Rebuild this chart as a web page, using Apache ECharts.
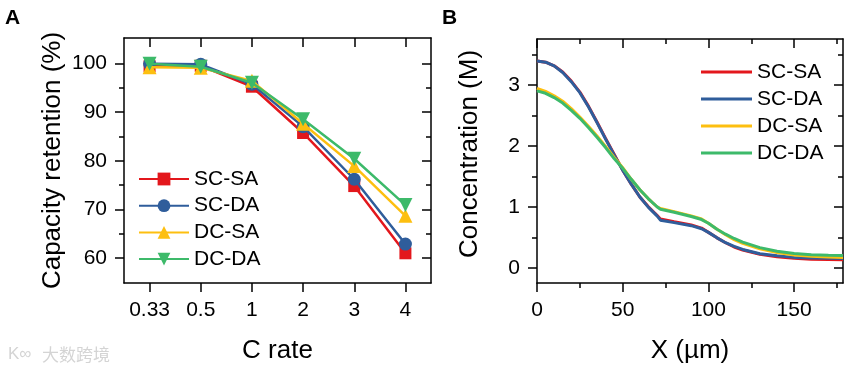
<!DOCTYPE html>
<html>
<head>
<meta charset="utf-8">
<script src="https://cdn.jsdelivr.net/npm/echarts@6/dist/echarts.min.js"></script>
<style>
  html, body { margin: 0; padding: 0; background: #fff; }
  #chart { width: 865px; height: 375px; }
</style>
</head>
<body>
<div id="chart"></div>
<script>
// panel A: capacity retention vs C rate
const cRates = ['0.33', '0.5', '1', '2', '3', '4'];
const retScSA = [99.4, 99.5, 95.2, 85.7, 74.8, 61.0];
const retScDA = [99.9, 99.8, 95.7, 87.0, 76.2, 62.9];
const retDcSA = [99.2, 99.1, 96.4, 87.6, 78.9, 68.7];
const retDcDA = [99.9, 99.3, 96.0, 88.5, 80.4, 70.9];
const retTicks = [60, 70, 80, 90, 100];
const retMinor = [65, 75, 85, 95];

// panel B: concentration profile
const xPos = [0, 5, 10, 15, 20, 25, 30, 35, 40, 45, 50, 55, 60, 65, 70, 72, 80, 90, 96, 100,
  105, 110, 115, 120, 130, 140, 150, 160, 170, 178.5];
const concScSA = [3.39, 3.37, 3.31, 3.21, 3.06, 2.88, 2.65, 2.39, 2.12, 1.86, 1.60, 1.37, 1.16, 1.00, 0.86,
  0.80, 0.755, 0.70, 0.65, 0.58, 0.49, 0.41, 0.34, 0.29, 0.22, 0.18, 0.155, 0.14, 0.135, 0.13];
const concScDA = [3.39, 3.37, 3.31, 3.20, 3.05, 2.87, 2.64, 2.38, 2.11, 1.85, 1.60, 1.37, 1.16, 0.99, 0.85,
  0.78, 0.74, 0.69, 0.64, 0.58, 0.49, 0.41, 0.35, 0.30, 0.23, 0.195, 0.17, 0.16, 0.155, 0.15];
const concDcSA = [2.94, 2.89, 2.82, 2.73, 2.61, 2.47, 2.32, 2.16, 1.99, 1.81, 1.64, 1.45, 1.28, 1.13, 1.00,
  0.97, 0.92, 0.85, 0.80, 0.73, 0.63, 0.54, 0.46, 0.40, 0.31, 0.25, 0.21, 0.19, 0.175, 0.17];
const concDcDA = [2.90, 2.86, 2.79, 2.70, 2.58, 2.45, 2.30, 2.14, 1.97, 1.79, 1.63, 1.45, 1.28, 1.13, 1.00,
  0.96, 0.91, 0.84, 0.79, 0.73, 0.63, 0.55, 0.48, 0.42, 0.33, 0.27, 0.235, 0.215, 0.205, 0.20];
const xTicks = [0, 50, 100, 150];
const xMinor = [25, 75, 125, 175];
const concTicks = [0, 1, 2, 3];
const concMinor = [0.5, 1.5, 2.5, 3.5];

const names = ['SC-SA', 'SC-DA', 'DC-SA', 'DC-DA'];
const colors = ['#e3171c', '#2f5d9b', '#fdbf10', '#3dba6a'];
const FONT = 'Liberation Sans, Arial, sans-serif';

const chart = echarts.init(document.getElementById('chart'));

const label = { color: '#000', fontSize: 21, fontFamily: FONT };
const nameStyle = { color: '#000', fontSize: 26, fontFamily: FONT };

// one axis per side and grid; minor ticks live on a twin grid with the same rect
function valAxis(grid, pos, min, max, ticks, len, opts) {
  const inside = pos === 'top' || pos === 'right';
  return Object.assign({
    type: 'value', gridIndex: grid, position: pos, min: min, max: max,
    axisLine: { show: len > 5, onZero: false, lineStyle: { color: '#000', width: 1.5 } },
    axisTick: { show: true, inside: inside, length: len, customValues: ticks,
      lineStyle: { color: '#000', width: 1.5 } },
    axisLabel: { show: false },
    splitLine: { show: false },
  }, opts || {});
}
function catAxis(grid, pos, opts) {
  return Object.assign({
    type: 'category', gridIndex: grid, position: pos, data: cRates, boundaryGap: true,
    axisLine: { show: true, onZero: false, lineStyle: { color: '#000', width: 1.5 } },
    axisTick: { show: true, inside: pos === 'top', length: 9, alignWithLabel: true,
      lineStyle: { color: '#000', width: 1.5 } },
    axisLabel: { show: false },
    splitLine: { show: false },
  }, opts || {});
}

const yMinA = 54.9, yMaxA = 105.2;
const yMinB = -0.25, yMaxB = 3.75;
const xMaxB = 178.5;
const rectA = { left: 124, top: 38, width: 307, height: 245 };
const rectB = { left: 537, top: 39, width: 306, height: 244 };

const option = {
  backgroundColor: '#fff',
  animation: false,
  textStyle: { fontFamily: FONT },
  grid: [rectA, rectB, rectA, rectB],
  xAxis: [
    catAxis(0, 'bottom', {
      axisLabel: { show: true, interval: 0, margin: 17, ...label },
      name: 'C rate', nameLocation: 'middle', nameGap: 55, nameTextStyle: nameStyle,
    }),
    catAxis(0, 'top'),
    valAxis(1, 'bottom', 0, xMaxB, xTicks, 9, {
      axisLabel: { show: true, margin: 17, customValues: xTicks, ...label },
      name: 'X (µm)', nameLocation: 'middle', nameGap: 55, nameTextStyle: nameStyle,
    }),
    valAxis(1, 'top', 0, xMaxB, xTicks, 9),
    catAxis(2, 'bottom', { show: false }),
    valAxis(3, 'bottom', 0, xMaxB, xMinor, 5),
    valAxis(3, 'top', 0, xMaxB, xMinor, 5),
  ],
  yAxis: [
    valAxis(0, 'left', yMinA, yMaxA, retTicks, 9, {
      axisLabel: { show: true, margin: 17, customValues: retTicks, ...label },
      name: 'Capacity retention (%)', nameLocation: 'middle', nameGap: 58, nameTextStyle: nameStyle,
    }),
    valAxis(0, 'right', yMinA, yMaxA, retTicks, 9),
    valAxis(1, 'left', yMinB, yMaxB, concTicks, 9, {
      axisLabel: { show: true, margin: 17, customValues: concTicks, ...label },
      name: 'Concentration (M)', nameLocation: 'middle', nameGap: 54,
      nameTextStyle: { ...nameStyle, padding: [0, 0, 0, 14] },
    }),
    valAxis(1, 'right', yMinB, yMaxB, concTicks, 9),
    valAxis(2, 'left', yMinA, yMaxA, retMinor, 5),
    valAxis(2, 'right', yMinA, yMaxA, retMinor, 5),
    valAxis(3, 'left', yMinB, yMaxB, concMinor, 5),
    valAxis(3, 'right', yMinB, yMaxB, concMinor, 5),
  ],
  legend: [
    {
      data: names,
      orient: 'vertical', left: 138, top: 168.5, padding: 0,
      itemWidth: 50, itemHeight: 16, itemGap: 5.7,
      textStyle: { color: '#000', fontSize: 21, fontFamily: FONT },
      selectedMode: false,
    },
    {
      data: names.map((n) => ({ name: n + ' ', icon: 'rect' })),
      orient: 'vertical', left: 701, top: 61.5, padding: 0,
      itemWidth: 51, itemHeight: 3, itemGap: 6,
      textStyle: { color: '#000', fontSize: 21, fontFamily: FONT },
      selectedMode: false,
    },
  ],
  graphic: [
    { type: 'text', left: 5, top: 8, style: { text: 'A', fontSize: 21, fontWeight: 'bold', fontFamily: FONT, fill: '#000' } },
    { type: 'text', left: 442, top: 8, style: { text: 'B', fontSize: 21, fontWeight: 'bold', fontFamily: FONT, fill: '#000' } },
    { type: 'text', left: 8, top: 346, style: { text: 'K∞', fontSize: 17, fontFamily: FONT, fill: '#d4d4d4' } },
    { type: 'text', left: 42, top: 346, style: { text: '大数跨境', fontSize: 17, fontFamily: 'Noto Sans CJK SC', fill: '#d4d4d4' } },
  ],
  series: [],
};

// panel A series
const retData = [retScSA, retScDA, retDcSA, retDcDA];
const symbols = ['rect', 'circle', 'triangle', 'triangle'];
const symSizes = [12, 13, 14, 14];
const rotations = [0, 0, 0, 180];
retData.forEach((d, i) => {
  option.series.push({
    name: names[i], type: 'line', xAxisIndex: 0, yAxisIndex: 0,
    data: d, symbol: symbols[i], symbolSize: symSizes[i], symbolRotate: rotations[i],
    showAllSymbol: true,
    lineStyle: { color: colors[i], width: 2.5 },
    itemStyle: { color: colors[i] },
    z: 3 + i,
  });
});

// panel B series
const concData = [concScSA, concScDA, concDcSA, concDcDA];
concData.forEach((d, i) => {
  option.series.push({
    name: names[i] + ' ', type: 'line', xAxisIndex: 2, yAxisIndex: 2,
    data: xPos.map((x, k) => [x, d[k]]),
    symbol: 'none',
    lineStyle: { color: colors[i], width: 3 },
    itemStyle: { color: colors[i] },
    z: 3 + i,
  });
});

chart.setOption(option);
</script>
</body>
</html>
